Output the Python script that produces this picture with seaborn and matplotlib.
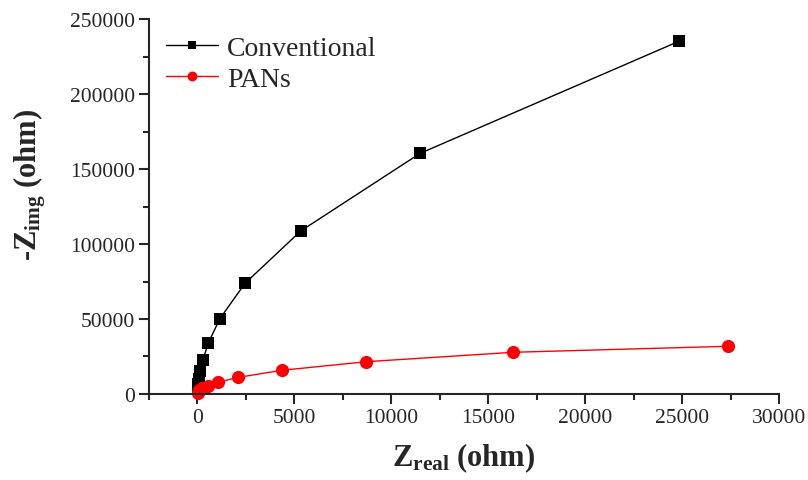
import pandas as pd
import seaborn as sns
import matplotlib.pyplot as plt
from matplotlib.ticker import MultipleLocator

# Nyquist data (ohm)
conv_real = [20, 40, 80, 150, 285, 560, 1145, 2455, 5330, 11480, 24830]
conv_img = [3300, 6700, 10000, 15500, 22900, 34000, 50000, 73800, 108700, 160400, 235100]

pans_real = [30, 100, 250, 560, 1040, 2110, 4350, 8690, 16270, 27350]
pans_img = [800, 2500, 3800, 5500, 7800, 11100, 15800, 21500, 27800, 31800]

conv = pd.DataFrame({'real': conv_real, 'img': conv_img})
pans = pd.DataFrame({'real': pans_real, 'img': pans_img})

sns.set_style('ticks')
plt.rcParams['font.family'] = ['Liberation Serif', 'DejaVu Serif']
plt.rcParams['mathtext.fontset'] = 'custom'
plt.rcParams['mathtext.rm'] = 'Liberation Serif:bold'
plt.rcParams['mathtext.bf'] = 'Liberation Serif:bold'
plt.rcParams['mathtext.it'] = 'Liberation Serif:bold'

fig = plt.figure(figsize=(8.08, 4.81), dpi=100)
ax = fig.add_axes([0.1844, 0.1788, 0.7797, 0.7796])

sns.lineplot(x='real', y='img', data=conv, ax=ax, color='black', marker='s',
             markersize=8, markeredgewidth=0, linewidth=1, sort=False,
             label='Conventional', clip_on=False)
sns.lineplot(x='real', y='img', data=pans, ax=ax, color='#ff0000', marker='o',
             markersize=9.5, markeredgewidth=0, linewidth=1, sort=False,
             label='PANs', clip_on=False)

ax.set_xlim(-2500, 30000)
ax.set_ylim(0, 250000)
ax.xaxis.set_major_locator(MultipleLocator(5000))
ax.xaxis.set_minor_locator(MultipleLocator(2500))
ax.yaxis.set_major_locator(MultipleLocator(50000))
ax.yaxis.set_minor_locator(MultipleLocator(25000))
ax.tick_params(which='major', direction='out', length=7, width=1.5, labelsize=15.5, pad=3)
ax.tick_params(which='minor', direction='out', length=4, width=1.5)
ax.set_xticks([0, 5000, 10000, 15000, 20000, 25000, 30000])
for s in ['left', 'bottom']:
    ax.spines[s].set_linewidth(1.5)
sns.despine(ax=ax)

ax.set_xlabel(r'$\mathregular{Z_{real}}$ (ohm)', fontsize=22, fontweight='bold', labelpad=10)
ax.set_ylabel(r'-$\mathregular{Z_{img}}$ (ohm)', fontsize=22, fontweight='bold')
ax.yaxis.set_label_coords(-0.16, 0.56)

leg = ax.legend(loc='upper left', frameon=False, fontsize=20, handlelength=1.9,
                handletextpad=0.3, borderaxespad=0.2, labelspacing=0.2,
                markerscale=0.75)

plt.savefig('out.png', dpi=100)
